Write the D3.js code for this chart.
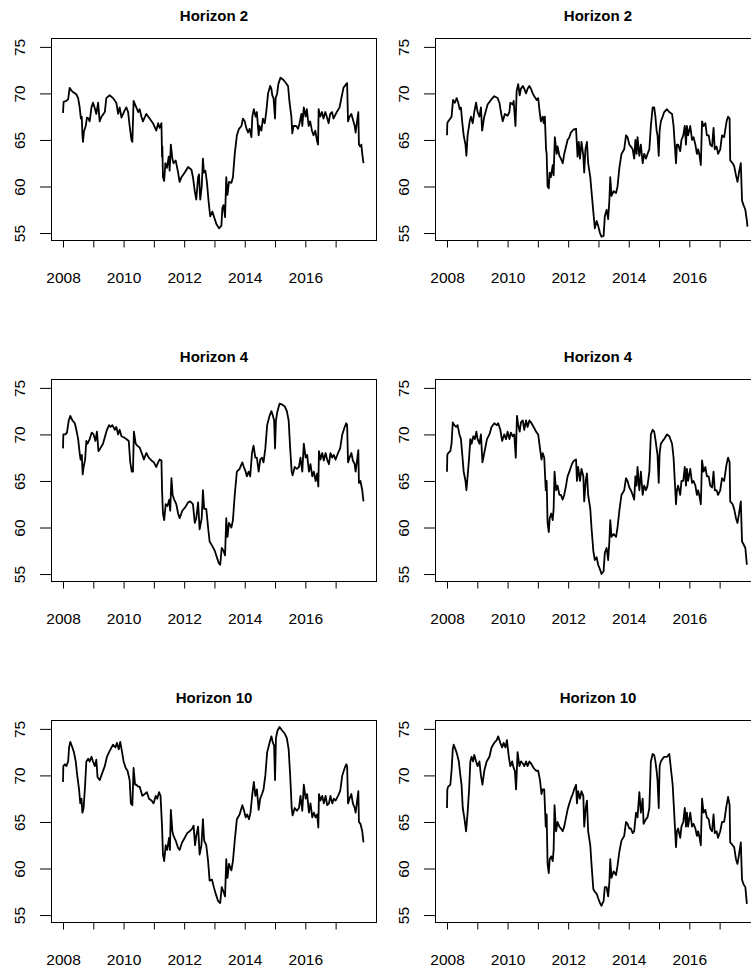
<!DOCTYPE html>
<meta charset="utf-8">
<style>
  body { margin: 0; background: #fff; }
  svg { display: block; background: #fff; }
  text { font-family: "Liberation Sans", Arial, Helvetica, sans-serif; fill: #000; }
  .title { font-weight: bold; font-size: 15px; }
  .axis text { font-size: 15.5px; }
  .axis line { stroke: #000; }
  .axis .domain { display: none; }
  .box { fill: none; stroke: #000; stroke-width: 1; }
  .series { fill: none; stroke: #000; stroke-width: 1.8; stroke-linejoin: round; }
</style>
<svg width="751" height="970"></svg>
<script src="https://d3js.org/d3.v7.min.js"></script>
<script>
  // tick labels
  var years = [2008, 2009, 2010, 2011, 2012, 2013, 2014, 2015, 2016, 2017];
  var yTicks = [55, 60, 65, 70, 75];
  var titles = ["Horizon 2", "Horizon 4", "Horizon 10"];

  // left column
  var l2Dates = [2008.00,2008.02,2008.11,2008.17,2008.22,2008.28,2008.35,2008.44,2008.50,2008.55,
    2008.59,2008.62,2008.64,2008.66,2008.69,2008.75,2008.79,2008.84,2008.88,2008.94,
    2008.99,2009.05,2009.10,2009.16,2009.21,2009.27,2009.38,2009.43,2009.54,2009.65,
    2009.76,2009.82,2009.87,2009.93,2010.04,2010.09,2010.15,2010.20,2010.26,2010.29,
    2010.33,2010.42,2010.48,2010.53,2010.59,2010.64,2010.75,2010.86,2010.97,2011.08,
    2011.14,2011.19,2011.25,2011.27,2011.28,2011.30,2011.34,2011.38,2011.43,2011.49,
    2011.52,2011.56,2011.61,2011.65,2011.72,2011.80,2011.85,2011.91,2012.02,2012.13,
    2012.24,2012.29,2012.35,2012.40,2012.46,2012.49,2012.53,2012.58,2012.62,2012.65,
    2012.70,2012.75,2012.81,2012.86,2012.93,2013.01,2013.06,2013.15,2013.23,2013.26,
    2013.30,2013.35,2013.39,2013.43,2013.48,2013.56,2013.61,2013.67,2013.74,2013.81,
    2013.89,2013.94,2014.00,2014.05,2014.11,2014.16,2014.22,2014.25,2014.30,2014.36,
    2014.40,2014.46,2014.49,2014.55,2014.60,2014.66,2014.71,2014.77,2014.84,2014.88,
    2014.91,2014.95,2015.00,2015.02,2015.07,2015.11,2015.18,2015.26,2015.34,2015.43,
    2015.48,2015.54,2015.57,2015.61,2015.70,2015.76,2015.81,2015.87,2015.90,2015.95,
    2016.01,2016.05,2016.11,2016.16,2016.22,2016.27,2016.33,2016.38,2016.42,2016.44,
    2016.49,2016.55,2016.60,2016.66,2016.71,2016.77,2016.82,2016.88,2016.93,2016.99,
    2017.04,2017.13,2017.21,2017.26,2017.35,2017.38,2017.41,2017.46,2017.52,2017.57,
    2017.63,2017.66,2017.70,2017.75,2017.77,2017.81,2017.85,2017.88,2017.92];
  var l2Values = [67.9,69.1,69.2,69.4,70.6,70.3,70.1,69.9,69.5,68.5,
    67.3,67.5,65.6,64.8,65.9,66.5,67.4,67.3,67.0,68.5,
    69.0,68.4,67.8,69.0,67.0,67.5,68.0,69.5,69.8,69.5,
    69.0,67.8,68.5,67.4,68.2,68.5,68.0,66.5,65.0,64.8,
    69.2,68.5,68.0,68.3,67.5,67.0,67.8,67.3,66.8,66.0,
    66.8,66.3,66.8,63.2,64.3,61.0,60.6,62.5,62.0,63.2,
    61.7,64.5,63.0,62.5,62.8,61.5,60.5,61.0,61.5,62.1,
    61.8,61.0,59.5,58.6,61.0,61.3,58.6,60.0,63.0,61.5,
    61.7,60.5,58.3,56.8,57.3,56.5,56.0,55.5,55.8,57.7,
    58.0,56.7,61.0,59.1,60.5,60.4,61.0,63.5,65.5,66.2,
    66.5,67.3,67.0,66.3,65.8,66.2,65.3,67.5,68.3,67.5,
    68.0,65.5,66.5,66.0,67.3,66.8,68.0,70.0,70.8,70.5,
    69.8,69.5,67.3,69.5,70.0,71.0,71.7,71.5,71.2,70.8,
    69.0,67.5,65.7,66.5,66.5,66.2,66.8,67.8,66.5,68.5,
    67.5,68.3,66.5,67.0,66.0,65.5,66.0,65.0,64.5,68.3,
    67.5,68.0,67.3,68.0,67.5,66.8,67.8,68.0,67.3,67.7,
    68.0,68.5,69.8,70.6,71.0,71.1,67.0,67.5,67.8,67.2,
    66.5,65.8,66.8,68.0,64.5,64.3,64.5,63.5,62.5];

  var l4Dates = [2008.00,2008.01,2008.08,2008.13,2008.19,2008.24,2008.31,2008.39,2008.44,2008.50,
    2008.55,2008.58,2008.62,2008.65,2008.68,2008.73,2008.77,2008.81,2008.88,2008.95,
    2009.01,2009.07,2009.12,2009.17,2009.23,2009.32,2009.39,2009.45,2009.52,2009.57,
    2009.63,2009.71,2009.76,2009.82,2009.87,2009.93,2010.00,2010.09,2010.17,2010.22,
    2010.27,2010.31,2010.34,2010.40,2010.45,2010.53,2010.62,2010.67,2010.75,2010.83,
    2010.92,2011.00,2011.08,2011.14,2011.19,2011.25,2011.27,2011.30,2011.34,2011.39,
    2011.45,2011.51,2011.54,2011.58,2011.62,2011.67,2011.74,2011.80,2011.85,2011.94,
    2012.04,2012.13,2012.20,2012.29,2012.35,2012.40,2012.46,2012.51,2012.58,2012.62,
    2012.66,2012.73,2012.79,2012.84,2012.93,2013.01,2013.06,2013.14,2013.19,2013.24,
    2013.30,2013.35,2013.39,2013.43,2013.48,2013.56,2013.61,2013.67,2013.74,2013.83,
    2013.92,2013.97,2014.03,2014.07,2014.13,2014.18,2014.24,2014.29,2014.35,2014.40,
    2014.46,2014.51,2014.57,2014.62,2014.68,2014.74,2014.82,2014.88,2014.93,2014.97,
    2015.00,2015.03,2015.08,2015.15,2015.24,2015.32,2015.39,2015.45,2015.50,2015.55,
    2015.58,2015.65,2015.72,2015.79,2015.84,2015.90,2015.95,2016.01,2016.06,2016.12,
    2016.17,2016.23,2016.28,2016.34,2016.39,2016.43,2016.45,2016.50,2016.56,2016.61,
    2016.67,2016.72,2016.78,2016.83,2016.89,2016.94,2017.00,2017.08,2017.15,2017.22,
    2017.30,2017.35,2017.38,2017.41,2017.46,2017.52,2017.57,2017.63,2017.66,2017.70,
    2017.75,2017.77,2017.82,2017.88,2017.92];
  var l4Values = [68.5,70.0,70.0,70.2,71.5,72.0,71.5,71.2,70.5,69.5,
    68.0,67.3,67.8,65.7,66.5,67.3,69.3,69.0,69.5,70.2,
    70.0,69.3,70.3,68.2,68.5,69.0,69.8,70.5,71.0,70.8,
    71.0,70.5,70.8,70.0,70.5,69.8,69.7,69.5,69.3,67.0,
    66.0,66.0,70.3,69.0,68.8,68.6,67.8,67.3,68.0,67.5,
    67.2,67.0,66.5,67.0,67.3,67.2,64.0,61.5,60.8,62.5,
    62.3,63.0,61.8,65.3,63.5,63.0,62.5,61.5,61.0,61.8,
    62.2,62.7,62.8,62.5,60.5,61.0,62.7,59.8,61.0,64.0,
    62.0,62.0,60.0,58.5,58.0,57.5,57.0,56.2,56.0,57.8,
    57.5,57.0,61.0,59.0,60.5,60.0,60.8,63.5,66.0,66.3,
    67.0,66.5,66.0,65.5,66.0,65.5,68.0,68.8,67.5,67.5,
    66.0,67.3,67.5,67.0,68.5,71.0,72.0,72.5,72.0,71.5,
    68.5,71.5,72.5,73.3,73.2,73.0,72.5,71.5,68.5,66.0,
    65.6,66.5,66.3,66.5,67.5,66.0,69.0,67.5,67.8,66.0,
    66.8,65.5,66.0,65.0,65.8,64.4,68.2,67.3,68.0,67.2,
    68.0,67.3,66.8,68.0,67.5,67.8,67.3,68.0,68.5,70.0,
    70.8,71.2,71.0,67.0,67.5,68.0,67.2,66.8,66.0,67.0,
    68.3,64.8,65.0,64.0,62.8];

  var l10Dates = [2008.00,2008.01,2008.06,2008.11,2008.17,2008.20,2008.24,2008.31,2008.36,2008.42,
    2008.47,2008.53,2008.57,2008.61,2008.64,2008.68,2008.73,2008.77,2008.83,2008.88,
    2008.94,2008.99,2009.05,2009.10,2009.14,2009.21,2009.30,2009.38,2009.45,2009.52,
    2009.57,2009.65,2009.73,2009.78,2009.84,2009.89,2009.95,2010.00,2010.07,2010.13,
    2010.20,2010.24,2010.29,2010.33,2010.38,2010.42,2010.48,2010.53,2010.62,2010.70,
    2010.77,2010.84,2010.92,2010.99,2011.06,2011.11,2011.17,2011.22,2011.27,2011.30,
    2011.34,2011.39,2011.44,2011.50,2011.53,2011.56,2011.61,2011.65,2011.72,2011.80,
    2011.85,2011.93,2012.02,2012.10,2012.18,2012.27,2012.31,2012.36,2012.40,2012.46,
    2012.51,2012.57,2012.62,2012.66,2012.73,2012.79,2012.84,2012.92,2012.98,2013.04,
    2013.12,2013.19,2013.24,2013.30,2013.35,2013.39,2013.43,2013.48,2013.56,2013.61,
    2013.67,2013.74,2013.83,2013.92,2013.97,2014.03,2014.08,2014.14,2014.19,2014.25,
    2014.30,2014.35,2014.40,2014.46,2014.51,2014.57,2014.62,2014.68,2014.74,2014.82,
    2014.88,2014.93,2014.97,2015.00,2015.03,2015.08,2015.15,2015.24,2015.32,2015.39,
    2015.45,2015.50,2015.55,2015.58,2015.65,2015.72,2015.79,2015.84,2015.90,2015.95,
    2016.01,2016.06,2016.12,2016.17,2016.23,2016.28,2016.34,2016.39,2016.43,2016.45,
    2016.50,2016.56,2016.61,2016.67,2016.72,2016.78,2016.83,2016.89,2016.94,2017.00,
    2017.08,2017.15,2017.22,2017.30,2017.35,2017.38,2017.41,2017.46,2017.52,2017.57,
    2017.63,2017.66,2017.70,2017.75,2017.77,2017.82,2017.88,2017.92];
  var l10Values = [69.3,71.0,71.2,71.0,71.5,73.0,73.6,73.0,72.5,71.5,
    70.0,68.5,67.0,67.5,66.0,66.5,69.0,71.5,71.8,71.5,
    72.0,71.5,71.0,71.7,69.8,69.5,70.3,71.0,72.0,72.5,
    72.8,73.3,73.0,73.5,72.8,73.6,72.5,71.5,70.8,70.5,
    69.5,67.0,66.8,70.8,69.0,69.0,68.8,68.8,67.8,68.0,
    68.2,67.5,67.3,67.0,67.8,67.5,68.2,67.8,64.5,61.5,
    60.8,62.5,62.0,63.3,62.0,66.3,64.0,63.5,63.0,62.2,
    62.0,62.8,63.3,63.8,64.0,64.3,64.6,62.5,63.5,64.5,
    61.5,62.5,65.3,63.0,62.5,60.8,58.7,58.8,58.0,57.3,
    56.5,56.3,58.0,57.5,57.0,61.0,59.0,60.5,59.8,60.8,
    63.0,65.3,65.8,66.8,66.3,65.5,65.8,65.3,66.0,68.0,
    69.3,67.8,68.5,66.3,67.5,68.0,68.5,70.0,72.5,73.5,
    74.2,73.5,73.2,69.5,74.0,74.8,75.2,74.8,74.5,74.0,
    72.8,70.0,66.5,65.7,66.5,66.2,66.5,67.8,66.2,69.0,
    67.5,68.0,66.0,67.0,65.5,66.0,65.5,65.8,64.4,68.0,
    67.3,67.8,67.0,67.8,66.8,67.0,67.8,67.0,67.5,67.3,
    67.8,68.3,70.0,70.8,71.2,71.0,67.0,67.5,68.0,67.0,
    66.5,66.0,67.0,68.3,65.0,64.8,64.0,62.8];

  // right column
  var r2Dates = [2008.00,2008.01,2008.04,2008.11,2008.15,2008.20,2008.26,2008.32,2008.37,2008.42,
    2008.46,2008.50,2008.55,2008.61,2008.64,2008.68,2008.75,2008.79,2008.85,2008.90,
    2008.96,2009.01,2009.07,2009.12,2009.16,2009.23,2009.34,2009.45,2009.56,2009.67,
    2009.73,2009.78,2009.84,2009.91,2010.00,2010.06,2010.09,2010.17,2010.20,2010.26,
    2010.30,2010.35,2010.40,2010.44,2010.50,2010.55,2010.61,2010.66,2010.72,2010.77,
    2010.83,2010.88,2010.96,2011.01,2011.06,2011.10,2011.16,2011.19,2011.23,2011.27,
    2011.29,2011.32,2011.36,2011.39,2011.43,2011.49,2011.52,2011.56,2011.62,2011.65,
    2011.71,2011.76,2011.82,2011.87,2011.93,2011.98,2012.04,2012.09,2012.17,2012.26,
    2012.31,2012.35,2012.39,2012.44,2012.50,2012.53,2012.57,2012.62,2012.66,2012.73,
    2012.77,2012.83,2012.88,2012.94,2012.99,2013.05,2013.10,2013.17,2013.21,2013.27,
    2013.32,2013.36,2013.39,2013.43,2013.50,2013.58,2013.63,2013.69,2013.76,2013.85,
    2013.91,2013.96,2014.02,2014.07,2014.13,2014.18,2014.22,2014.26,2014.29,2014.35,
    2014.40,2014.46,2014.51,2014.57,2014.62,2014.68,2014.73,2014.79,2014.84,2014.88,
    2014.92,2014.95,2014.99,2015.02,2015.06,2015.12,2015.17,2015.26,2015.34,2015.43,
    2015.48,2015.52,2015.56,2015.59,2015.63,2015.70,2015.74,2015.80,2015.85,2015.89,
    2015.92,2015.96,2016.03,2016.09,2016.14,2016.20,2016.25,2016.29,2016.34,2016.38,
    2016.42,2016.47,2016.53,2016.58,2016.64,2016.69,2016.75,2016.80,2016.84,2016.90,
    2016.95,2017.02,2017.08,2017.15,2017.23,2017.28,2017.33,2017.35,2017.43,2017.48,
    2017.54,2017.59,2017.64,2017.70,2017.74,2017.79,2017.85,2017.90,2017.92];
  var r2Values = [65.5,66.8,67.0,67.3,67.5,69.3,69.0,69.5,69.0,68.3,
    68.5,67.0,65.5,64.5,63.3,65.5,67.0,67.5,66.8,68.0,
    69.0,68.0,67.5,68.5,66.0,67.5,68.8,69.3,69.7,69.5,
    69.0,68.0,67.0,67.8,67.6,68.0,69.0,68.8,69.2,66.5,
    70.3,71.0,69.8,70.5,70.8,70.5,70.0,70.5,70.8,70.5,
    70.0,69.7,69.3,69.5,68.0,67.0,67.5,66.8,67.5,64.0,
    63.5,60.0,59.8,61.5,61.0,62.3,61.2,65.3,63.5,64.3,
    63.3,63.0,62.5,63.5,64.3,65.0,65.3,65.8,66.1,66.2,
    63.2,64.8,63.0,64.8,63.3,61.5,64.0,64.8,62.5,61.0,
    59.5,57.3,55.5,56.3,55.8,55.0,54.6,54.7,56.8,57.5,
    56.5,58.5,61.0,59.0,59.5,59.3,60.0,62.0,63.5,64.0,
    65.5,65.3,64.5,64.3,64.0,63.0,65.0,63.5,65.3,63.3,
    64.5,62.5,63.5,63.0,63.5,64.0,66.5,68.5,68.5,67.5,
    66.0,65.5,63.3,66.0,67.0,67.5,68.0,68.3,68.0,67.8,
    66.5,64.5,62.5,64.5,64.5,63.8,65.0,65.5,66.5,64.5,
    66.5,65.5,66.5,65.0,65.3,64.5,63.5,64.0,63.3,62.3,
    67.0,66.5,66.8,65.5,65.5,64.5,64.3,66.3,64.0,64.3,
    63.5,64.0,65.5,65.3,67.0,67.5,67.3,62.8,62.5,62.2,
    61.2,60.5,61.5,62.5,58.5,58.0,57.5,56.3,55.7];

  var r4Dates = [2008.00,2008.01,2008.04,2008.11,2008.15,2008.19,2008.24,2008.30,2008.35,2008.41,
    2008.46,2008.50,2008.55,2008.61,2008.64,2008.68,2008.73,2008.77,2008.81,2008.87,
    2008.92,2008.97,2009.01,2009.07,2009.12,2009.17,2009.23,2009.32,2009.40,2009.47,
    2009.56,2009.64,2009.69,2009.76,2009.82,2009.89,2009.95,2010.00,2010.06,2010.11,
    2010.17,2010.22,2010.27,2010.31,2010.35,2010.40,2010.44,2010.50,2010.55,2010.61,
    2010.66,2010.72,2010.77,2010.86,2010.94,2011.01,2011.07,2011.12,2011.16,2011.21,
    2011.26,2011.29,2011.32,2011.36,2011.39,2011.44,2011.49,2011.52,2011.55,2011.60,
    2011.65,2011.71,2011.76,2011.82,2011.87,2011.93,2011.98,2012.04,2012.09,2012.15,
    2012.20,2012.26,2012.29,2012.33,2012.39,2012.44,2012.50,2012.53,2012.58,2012.62,
    2012.66,2012.73,2012.77,2012.83,2012.88,2012.94,2012.99,2013.05,2013.10,2013.17,
    2013.21,2013.27,2013.32,2013.36,2013.39,2013.43,2013.50,2013.58,2013.63,2013.69,
    2013.76,2013.85,2013.91,2013.96,2014.02,2014.07,2014.13,2014.18,2014.22,2014.26,
    2014.29,2014.35,2014.40,2014.46,2014.51,2014.57,2014.62,2014.68,2014.73,2014.79,
    2014.84,2014.88,2014.92,2014.95,2014.99,2015.02,2015.06,2015.12,2015.17,2015.26,
    2015.34,2015.43,2015.48,2015.52,2015.56,2015.59,2015.63,2015.70,2015.74,2015.80,
    2015.85,2015.89,2015.92,2015.96,2016.03,2016.09,2016.14,2016.20,2016.25,2016.29,
    2016.34,2016.38,2016.42,2016.47,2016.53,2016.58,2016.64,2016.69,2016.75,2016.80,
    2016.84,2016.90,2016.95,2017.02,2017.08,2017.15,2017.23,2017.28,2017.33,2017.35,
    2017.43,2017.48,2017.54,2017.59,2017.64,2017.70,2017.74,2017.79,2017.85,2017.90];
  var r4Values = [66.0,67.8,68.0,68.2,69.0,71.3,71.0,70.8,71.0,70.0,
    69.5,68.0,66.0,65.0,64.0,65.5,67.5,69.5,69.0,69.8,
    69.5,70.3,69.5,69.0,70.0,67.0,68.0,69.5,70.0,70.8,
    71.2,71.0,71.2,70.5,69.3,70.0,69.5,70.3,69.5,70.2,
    69.8,70.0,67.5,72.0,71.0,70.3,71.3,71.5,70.5,71.5,
    70.8,71.5,71.3,70.8,70.3,70.0,68.5,67.3,68.0,67.5,
    64.0,65.0,60.5,59.5,61.0,61.5,60.8,62.0,66.0,64.0,
    64.5,63.5,63.5,63.0,63.5,64.5,65.5,66.0,66.5,67.0,
    67.2,67.3,65.0,66.5,65.0,66.3,65.5,62.8,65.0,65.8,
    63.5,62.0,60.0,57.5,56.5,56.8,56.0,55.5,55.0,55.3,
    57.3,57.8,56.5,58.5,60.8,59.0,59.3,59.0,60.0,61.8,
    63.5,64.0,65.3,65.0,64.3,64.0,63.5,63.0,65.5,64.5,
    66.5,64.0,66.0,63.5,64.5,64.0,64.5,66.0,70.0,70.5,
    70.3,69.5,68.5,67.8,64.8,68.0,69.0,69.3,69.5,70.0,
    69.8,69.0,67.5,65.0,62.5,64.0,64.5,63.5,65.0,65.0,
    66.5,64.5,66.3,65.0,66.3,64.8,65.0,64.5,63.5,64.0,
    63.3,62.5,67.2,66.0,66.5,65.5,65.5,64.5,64.3,66.0,
    64.0,64.0,63.5,64.0,65.3,65.0,66.8,67.5,67.0,62.8,
    62.5,62.0,61.0,60.5,61.5,62.8,58.5,58.2,57.8,56.0];

  var r10Dates = [2008.00,2008.01,2008.04,2008.11,2008.15,2008.19,2008.22,2008.28,2008.33,2008.39,
    2008.44,2008.48,2008.52,2008.57,2008.63,2008.68,2008.73,2008.77,2008.81,2008.86,
    2008.90,2008.96,2009.01,2009.07,2009.12,2009.17,2009.23,2009.31,2009.40,2009.47,
    2009.56,2009.64,2009.69,2009.76,2009.82,2009.87,2009.93,2009.98,2010.04,2010.09,
    2010.15,2010.20,2010.24,2010.28,2010.33,2010.39,2010.44,2010.50,2010.55,2010.61,
    2010.66,2010.72,2010.77,2010.86,2010.94,2011.01,2011.07,2011.12,2011.16,2011.21,
    2011.26,2011.29,2011.32,2011.36,2011.39,2011.44,2011.49,2011.52,2011.55,2011.60,
    2011.65,2011.71,2011.76,2011.82,2011.87,2011.93,2011.98,2012.04,2012.09,2012.15,
    2012.20,2012.26,2012.29,2012.33,2012.39,2012.44,2012.50,2012.53,2012.58,2012.62,
    2012.66,2012.73,2012.77,2012.83,2012.88,2012.94,2012.99,2013.05,2013.10,2013.17,
    2013.21,2013.27,2013.32,2013.36,2013.39,2013.43,2013.50,2013.58,2013.63,2013.69,
    2013.76,2013.85,2013.91,2013.96,2014.02,2014.07,2014.13,2014.18,2014.24,2014.29,
    2014.35,2014.40,2014.46,2014.49,2014.57,2014.62,2014.68,2014.73,2014.79,2014.84,
    2014.88,2014.92,2014.95,2014.99,2015.02,2015.06,2015.12,2015.17,2015.26,2015.34,
    2015.39,2015.45,2015.50,2015.56,2015.59,2015.63,2015.70,2015.74,2015.80,2015.85,
    2015.89,2015.92,2015.96,2016.03,2016.09,2016.14,2016.20,2016.25,2016.29,2016.34,
    2016.38,2016.42,2016.47,2016.53,2016.58,2016.64,2016.69,2016.75,2016.80,2016.84,
    2016.90,2016.95,2017.02,2017.08,2017.15,2017.23,2017.28,2017.33,2017.35,2017.43,
    2017.48,2017.54,2017.59,2017.64,2017.70,2017.74,2017.79,2017.85,2017.90];
  var r10Values = [66.5,68.5,68.8,69.0,70.5,72.8,73.3,72.8,72.3,71.5,
    70.0,69.0,66.5,65.5,64.0,66.0,68.5,71.5,72.0,71.5,
    72.2,71.5,71.0,71.5,70.0,69.0,70.5,71.5,72.0,73.0,
    73.5,73.8,74.2,73.5,73.0,73.5,73.0,73.8,72.0,71.0,
    71.5,70.8,70.5,68.5,72.5,71.0,71.5,71.3,71.0,71.5,
    71.0,71.5,71.3,70.8,70.5,70.5,69.5,68.0,68.5,68.5,
    64.5,65.8,60.5,59.5,61.0,61.3,60.8,62.0,66.8,64.0,
    65.0,64.5,64.3,64.0,64.5,65.5,66.3,67.0,67.5,68.0,
    68.5,69.0,67.0,68.3,67.5,68.3,67.8,64.5,66.5,67.3,
    64.0,62.5,60.5,57.8,57.5,57.3,56.8,56.3,56.0,56.5,
    58.0,58.0,57.0,58.5,61.0,59.0,59.7,59.3,60.3,61.8,
    63.0,63.5,65.0,64.8,64.3,64.3,63.8,64.0,66.0,65.5,
    68.2,66.0,67.5,64.8,65.3,65.5,66.5,71.5,72.3,72.2,
    71.5,70.5,69.5,66.5,71.0,71.5,71.8,72.0,72.0,72.3,
    70.8,69.0,66.0,62.3,64.0,64.3,63.3,64.5,65.0,66.5,
    64.5,66.0,64.5,66.0,64.5,64.8,64.3,63.5,64.0,63.3,
    62.5,67.5,66.0,66.3,65.5,65.3,64.3,64.0,65.8,63.8,
    64.0,63.3,64.0,65.0,65.0,66.8,67.7,66.8,62.8,62.5,
    62.3,61.0,60.5,61.5,62.8,58.8,58.3,58.0,56.2];

  var panels = [
    { title: titles[0], dates: l2Dates, values: l2Values, col: 0, row: 0 },
    { title: titles[0], dates: r2Dates, values: r2Values, col: 1, row: 0 },
    { title: titles[1], dates: l4Dates, values: l4Values, col: 0, row: 1 },
    { title: titles[1], dates: r4Dates, values: r4Values, col: 1, row: 1 },
    { title: titles[2], dates: l10Dates, values: l10Values, col: 0, row: 2 },
    { title: titles[2], dates: r10Dates, values: r10Values, col: 1, row: 2 }
  ];

  var svg = d3.select("svg");
  var colX = [51.5, 435.5],
    rowY = [38.5, 379.5, 720.5],
    w = 325,
    h = 202;

  var x = d3.scaleLinear().domain([2007.62, 2018.35]).range([0, w]);
  var y = d3.scaleLinear().domain([54.2, 75.9]).range([h, 0]);

  var line = d3.line()
    .x(function(d) { return x(d[0]); })
    .y(function(d) { return y(d[1]); });

  panels.forEach(function(p) {
    var g = svg.append("g")
      .attr("transform", "translate(" + colX[p.col] + "," + rowY[p.row] + ")");

    var pts = d3.zip(p.dates, p.values);

    g.append("path")
      .datum(pts)
      .attr("class", "series")
      .attr("d", line);

    g.append("rect")
      .attr("class", "box")
      .attr("width", w)
      .attr("height", h);

    //x axis, labels only on even years
    g.append("g")
      .attr("class", "axis")
      .attr("transform", "translate(0," + h + ")")
      .call(d3.axisBottom(x)
        .tickValues(years)
        .tickSize(7)
        .tickPadding(24.5)
        .tickFormat(function(d) { return d % 2 === 0 ? d : ""; }));

    //y axis, rotated labels
    var ya = g.append("g")
      .attr("class", "axis")
      .call(d3.axisLeft(y).tickValues(yTicks).tickSize(11.5));
    ya.selectAll("text")
      .attr("transform", "rotate(-90)")
      .attr("x", 0)
      .attr("y", -26.5)
      .attr("dy", null)
      .attr("text-anchor", "middle");

    g.append("text")
      .attr("class", "title")
      .attr("x", w / 2)
      .attr("y", -17.5)
      .attr("text-anchor", "middle")
      .text(p.title);
  });
</script>
